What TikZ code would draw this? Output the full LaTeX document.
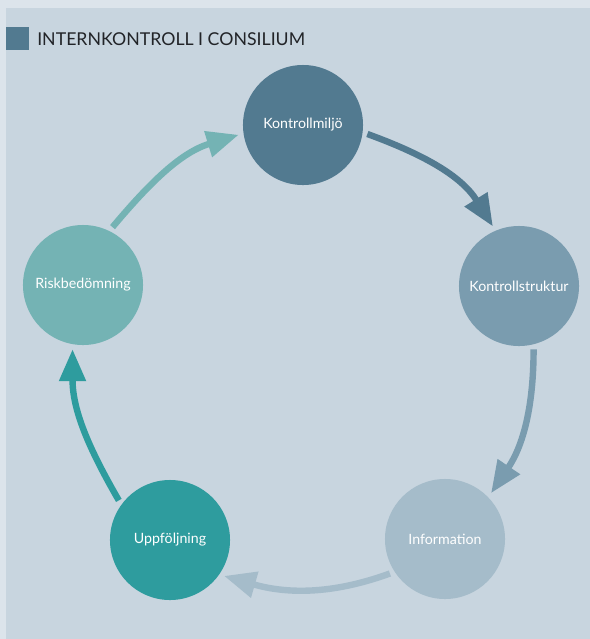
\documentclass[tikz,border=0pt]{standalone}
\usepackage{fontspec}
\setmainfont{Lato}
\usetikzlibrary{arrows.meta}

\definecolor{outerbg}{HTML}{DCE4EB}
\definecolor{panelbg}{HTML}{C8D5DF}
\definecolor{miljo}{HTML}{527A90}
\definecolor{struktur}{HTML}{7A9CAF}
\definecolor{inform}{HTML}{A5BCCA}
\definecolor{uppfolj}{HTML}{2E9C9E}
\definecolor{riskbed}{HTML}{74B3B4}
\definecolor{titletext}{HTML}{222428}

\begin{document}
\begin{tikzpicture}[x=0.025cm,y=-0.025cm,
  step circle/.style={circle,minimum size=3cm,inner sep=0pt,text=white,font=\fontsize{10.1}{12}\selectfont},
  cycle arrow/.style={line width=0.16cm,shorten <=0.12cm,shorten >=0.12cm,-{Triangle[length=0.8cm,width=0.64cm]}}]
% background
\fill[outerbg] (0,0) rectangle (590,639);
\fill[panelbg] (6,8) rectangle (590,639);
\useasboundingbox (0,0) rectangle (590,639);

% title
\fill[miljo] (6,27) rectangle (29,50);
\node[anchor=base west,inner sep=0pt,text=titletext,font=\fontsize{12.6}{14}\selectfont] (title) at (37,45.5) {INTERNKONTROLL I CONSILIUM};

% the five steps
\node[step circle,fill=miljo] (kmiljo) at (303,125) {Kontrollmiljö};
\node[step circle,fill=struktur] (kstruktur) at (519,286) {Kontrollstruktur};
\node[step circle,fill=inform] (info) at (445,539) {Information};
\node[step circle,fill=uppfolj] (uppf) at (170,540) {Uppföljning};
\node[step circle,fill=riskbed] (risk) at (83,285) {Riskbedömning};

% arrows round the cycle
\draw[cycle arrow,miljo] (kmiljo.-7) to[out=-20,in=122] (kstruktur.113);
\draw[cycle arrow,struktur] (kstruktur.-76) to[out=-90,in=56] (info.44);
\draw[cycle arrow,inform] (info.213) to[out=200,in=-16] (uppf.-35);
\draw[cycle arrow,uppfolj] (uppf.144) to[out=120,in=270] (risk.260);
\draw[cycle arrow,riskbed] (risk.64) to[out=50,in=197] (kmiljo.188);
\end{tikzpicture}
\end{document}
